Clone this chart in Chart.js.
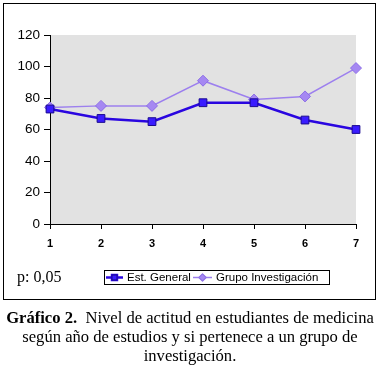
<!DOCTYPE html>
<html>
<head>
<meta charset="utf-8">
<script src="https://cdn.jsdelivr.net/npm/chart.js@4/dist/chart.umd.min.js"></script>
<style>
  html, body { margin: 0; padding: 0; background: #fff; }
  body { width: 380px; height: 368px; position: relative; overflow: hidden; }
  #wrap { position: absolute; left: 0; top: 0; width: 380px; height: 300px; }
  #frame { position: absolute; left: 3px; top: 3px; width: 371px; height: 295px;
           border: 1.5px solid #000; pointer-events: none; }
  #pval { position: absolute; left: 17px; top: 268px; font: 16px "Liberation Serif", serif; color: #000; }
  #caption { position: absolute; left: 0; top: 308px; width: 380px; text-align: center;
             font: 16.6px "Liberation Serif", serif; line-height: 19px; color: #000; }
</style>
</head>
<body>
<div id="wrap"><canvas id="chart" width="380" height="300"></canvas></div>
<div id="frame"></div>
<div id="pval">p: 0,05</div>
<div id="caption"><b>Gráfico 2.</b>&nbsp; Nivel de actitud en estudiantes de medicina<br>según año de estudios y si pertenece a un grupo de<br>investigación.</div>
<script>
// ---- data ----
const years = ["1", "2", "3", "4", "5", "6", "7"];
const estGeneral = [73, 67, 65, 77, 77, 66, 60];
const grupoInvestigacion = [74, 75, 75, 91, 79, 81, 99];
const yTicks = [0, 20, 40, 60, 80, 100, 120];

const blue = "#2a06e0";
const purple = "#9d80ee";

/* gray plot background */
const plotBg = {
  id: "plotBg",
  beforeDraw(chart) {
    const { ctx, chartArea: a } = chart;
    ctx.save();
    ctx.fillStyle = "#e2e2e2";
    ctx.fillRect(a.left, a.top, a.right - a.left, a.bottom - a.top);
    ctx.restore();
  }
};

/* boxed legend under the plot, like the original */
const boxLegend = {
  id: "boxLegend",
  afterDraw(chart) {
    const ctx = chart.ctx;
    const x0 = 104, y0 = 270, w = 225, h = 14;
    ctx.save();
    ctx.fillStyle = "#fff";
    ctx.fillRect(x0, y0, w, h);
    ctx.strokeStyle = "#000";
    ctx.lineWidth = 1;
    ctx.strokeRect(x0 + 0.5, y0 + 0.5, w, h);
    const cy = y0 + h / 2 + 0.5;
    const items = [
      { ds: chart.data.datasets[0], lx: 106, lw: 17 },
      { ds: chart.data.datasets[1], lx: 193, lw: 19 }
    ];
    ctx.font = "11.5px 'Liberation Sans', Arial, sans-serif";
    ctx.textBaseline = "middle";
    items.forEach(it => {
      const ds = it.ds;
      ctx.strokeStyle = ds.borderColor;
      ctx.lineWidth = ds.borderWidth;
      ctx.beginPath();
      ctx.moveTo(it.lx, cy);
      ctx.lineTo(it.lx + it.lw, cy);
      ctx.stroke();
      Chart.helpers.drawPoint(ctx, {
        pointStyle: ds.pointStyle,
        radius: 3.5,
        borderWidth: ds.pointBorderWidth
      }, it.lx + it.lw / 2, cy);
      ctx.fillStyle = ds.pointBackgroundColor;
      ctx.strokeStyle = ds.pointBorderColor;
      ctx.lineWidth = ds.pointBorderWidth;
      ctx.fill();
      ctx.stroke();
      ctx.fillStyle = "#000";
      ctx.fillText(ds.label, it.lx + it.lw + 4, cy);
    });
    ctx.restore();
  }
};

new Chart(document.getElementById("chart"), {
  type: "line",
  data: {
    labels: years,
    datasets: [
      {
        label: "Est. General",
        data: estGeneral,
        borderColor: blue,
        borderWidth: 2.5,
        pointStyle: "rect",
        pointRadius: 5.5,
        pointBackgroundColor: "#3a1cff",
        pointBorderColor: "#1a0a90",
        pointBorderWidth: 1,
        tension: 0
      },
      {
        label: "Grupo Investigación",
        data: grupoInvestigacion,
        borderColor: purple,
        borderWidth: 1.5,
        pointStyle: "rectRot",
        pointRadius: 5.5,
        pointBackgroundColor: "#a588f2",
        pointBorderColor: "#8c6ee6",
        pointBorderWidth: 1,
        tension: 0
      }
    ]
  },
  options: {
    responsive: false,
    animation: false,
    layout: { autoPadding: false, padding: { top: 35, right: 24, left: 0, bottom: 0 } },
    plugins: { legend: { display: false }, tooltip: { enabled: false } },
    scales: {
      x: {
        offset: false,
        grid: { drawOnChartArea: false, drawTicks: true, tickLength: 5, color: "#000" },
        border: { display: true, color: "#000", width: 1 },
        ticks: { color: "#000", padding: 8, font: { size: 11, weight: "bold", family: "'Liberation Sans', Arial, sans-serif" }, maxRotation: 0 },
        afterFit(scale) { scale.height = 76; }
      },
      y: {
        min: 0,
        max: 120,
        afterBuildTicks(scale) { scale.ticks = yTicks.map(v => ({ value: v })); },
        grid: { drawOnChartArea: false, drawTicks: true, tickLength: 6, color: "#000" },
        border: { display: true, color: "#000", width: 1 },
        ticks: { color: "#000", padding: 4, font: { size: 13.5, family: "'Liberation Sans', Arial, sans-serif" } },
        afterFit(scale) { scale.width = 50; }
      }
    }
  },
  plugins: [plotBg, boxLegend]
});
</script>
</body>
</html>
